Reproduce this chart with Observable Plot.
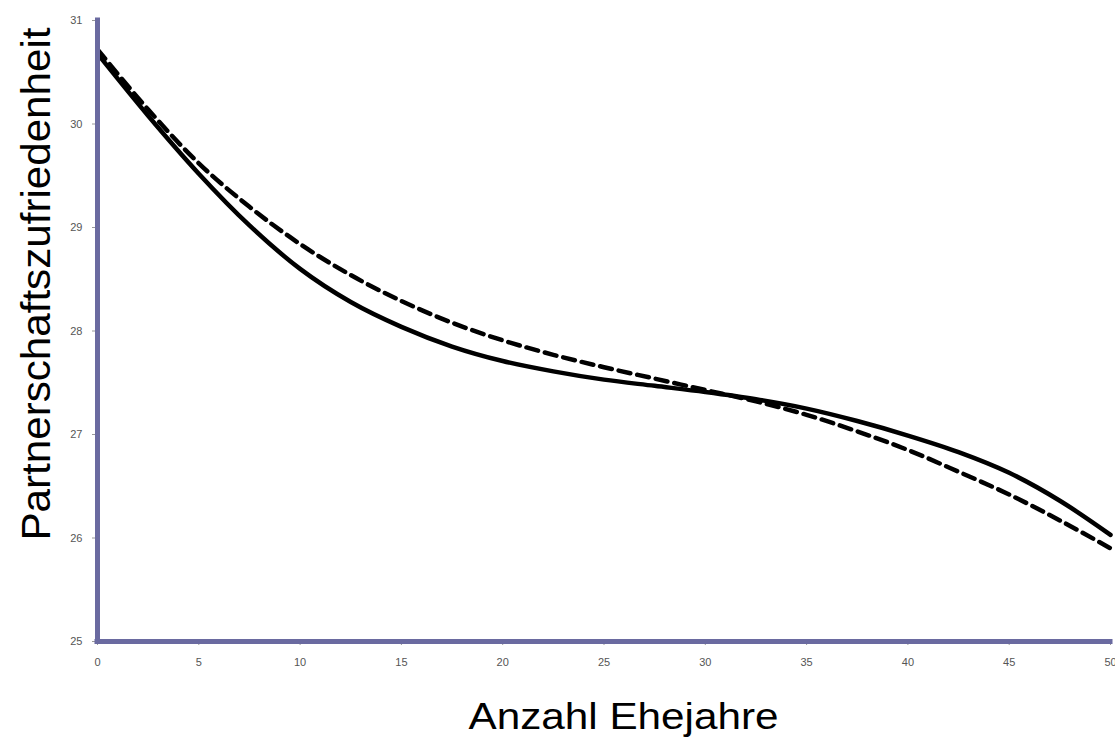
<!DOCTYPE html>
<html>
<head>
<meta charset="utf-8">
<script src="https://cdn.jsdelivr.net/npm/d3@7"></script>
<script src="https://cdn.jsdelivr.net/npm/@observablehq/plot@0.6"></script>
<style>
  html, body { margin: 0; padding: 0; background: #fff; }
  #chart svg { display: block; }
</style>
</head>
<body>
<div id="chart"></div>
<script>
// Anzahl Ehejahre (x)
const years = [0, 2.5, 5, 7.5, 10, 12.5, 15, 17.5, 20, 22.5, 25, 27.5, 30, 32.5, 35, 37.5, 40, 42.5, 45, 47.5, 50];
// Partnerschaftszufriedenheit, solid curve
const solidValues = [30.68, 30.08, 29.52, 29.02, 28.60, 28.28, 28.04, 27.85, 27.71, 27.61, 27.53, 27.47, 27.41, 27.34, 27.25, 27.13, 26.99, 26.83, 26.63, 26.36, 26.03];
// Partnerschaftszufriedenheit, dashed curve
const dashedValues = [30.72, 30.14, 29.62, 29.20, 28.84, 28.54, 28.29, 28.08, 27.91, 27.77, 27.65, 27.54, 27.43, 27.32, 27.19, 27.03, 26.85, 26.64, 26.42, 26.17, 25.90];
const xTicks = [0, 5, 10, 15, 20, 25, 30, 35, 40, 45, 50];
const yTicks = [25, 26, 27, 28, 29, 30, 31];
const xLabel = "Anzahl Ehejahre";
const yLabel = "Partnerschaftszufriedenheit";

const solid = years.map((x, i) => ({x, y: solidValues[i]}));
const dashed = years.map((x, i) => ({x, y: dashedValues[i]}));

const axisColor = "#6a6aa0";

const chart = Plot.plot({
  width: 1115,
  height: 739,
  marginLeft: 97,
  marginRight: 5,
  marginTop: 20,
  marginBottom: 98,
  style: {fontFamily: "Liberation Sans, Arial, sans-serif", background: "#fff"},
  x: {domain: [0, 50]},
  y: {domain: [25, 31]},
  marks: [
    Plot.axisX({ticks: xTicks, tickFormat: "d", tickSize: 4, tickPadding: 13, fontSize: 11, label: null, stroke: "#999", fill: "#555"}),
    Plot.axisY({ticks: yTicks, tickFormat: "d", tickSize: 5, tickPadding: 10, fontSize: 11, label: null, stroke: "#999", fill: "#555"}),
    Plot.line(dashed, {x: "x", y: "y", stroke: "#000", strokeWidth: 4.5, strokeDasharray: "12,7", curve: "monotone-x"}),
    Plot.line(solid, {x: "x", y: "y", stroke: "#000", strokeWidth: 4.5, curve: "monotone-x"}),
    Plot.ruleX([0], {y1: 25, y2: 31, stroke: axisColor, strokeWidth: 5, strokeLinecap: "square"}),
    Plot.ruleY([25], {x1: 0, x2: 50, stroke: axisColor, strokeWidth: 5, strokeLinecap: "square"}),
    Plot.text([xLabel], {frameAnchor: "bottom", textAnchor: "middle", lineAnchor: "middle", dx: 19.5, dy: 75.5, fontSize: 36, fill: "#000", className: "xlab"}),
    Plot.text([yLabel], {frameAnchor: "left", textAnchor: "middle", lineAnchor: "middle", rotate: -90, dx: -60, dy: -47, fontSize: 40, fill: "#000", className: "ylab"})
  ]
});

document.getElementById("chart").appendChild(chart);

// stretch the titles horizontally to match the reference's wide lettering
d3.select(chart).selectAll(".xlab text").attr("textLength", 310).attr("lengthAdjust", "spacingAndGlyphs");
d3.select(chart).selectAll(".ylab text").attr("textLength", 513).attr("lengthAdjust", "spacingAndGlyphs");
</script>
</body>
</html>
